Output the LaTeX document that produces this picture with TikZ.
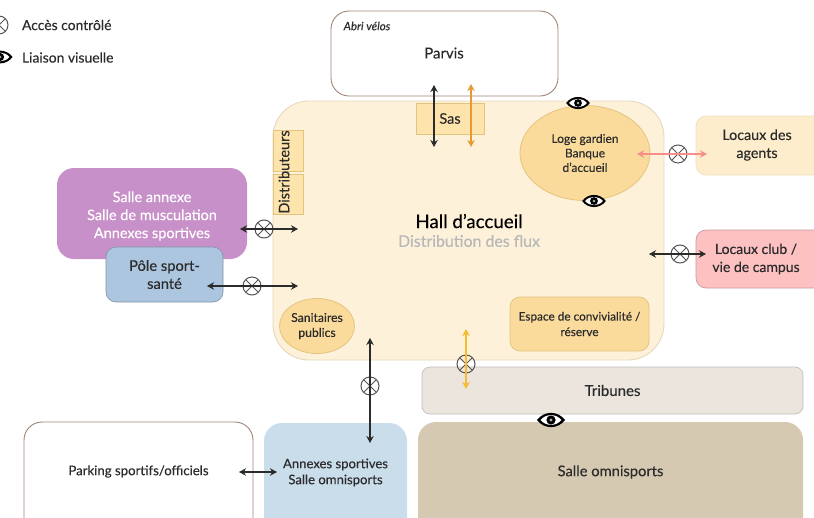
\documentclass[tikz,border=0pt]{standalone}
\usepackage{fontspec}
\setmainfont{Lato}[RawFeature={embolden=0.25}]
\usetikzlibrary{arrows.meta,shapes.geometric}
\definecolor{hallfill}{HTML}{FDF1DA}
\definecolor{halledge}{HTML}{E6D8BC}
\definecolor{gold}{HTML}{FDE3AC}
\definecolor{goldedge}{HTML}{E3C47F}
\definecolor{ellfill}{HTML}{FADB9B}
\definecolor{agents}{HTML}{FDEDCD}
\definecolor{club}{HTML}{FDC1C2}
\definecolor{mauve}{HTML}{C890C9}
\definecolor{blue1}{HTML}{ABC6DE}
\definecolor{blue2}{HTML}{C9DDEB}
\definecolor{trib}{HTML}{ECE5DD}
\definecolor{salle}{HTML}{D5C9B2}
\definecolor{brownedge}{HTML}{A08478}
\definecolor{ink}{HTML}{2B2B2B}
\definecolor{orangearrow}{HTML}{E59A33}
\definecolor{pinkarrow}{HTML}{F88E8A}
\definecolor{yellowarrow}{HTML}{F6BC2E}
\tikzset{
  x=1pt,y=-1pt,
  room/.style={rectangle,rounded corners=#1,inner sep=0pt,align=center,text=ink,font=\fontsize{13}{16}\selectfont},
  room/.default=16pt,
  flow/.style={line width=1.6pt,draw=ink,{Stealth[length=7pt,width=7.5pt]}-{Stealth[length=7pt,width=7.5pt]}},
  ctrl/.style={circle,draw=ink!80,line width=1pt,minimum size=18pt,inner sep=0pt,
    path picture={\draw[ink!80,line width=0.8pt] (path picture bounding box.north west) -- (path picture bounding box.south east)
      (path picture bounding box.north east) -- (path picture bounding box.south west);}},
  eyeicon/.pic={
    \fill[black] (-14,0) .. controls (-7,-9.5) and (7,-9.5) .. (14,0) .. controls (7,9.5) and (-7,9.5) .. (-14,0) -- cycle;
    \fill[white] (-10.5,0) .. controls (-5,-6.5) and (5,-6.5) .. (10.5,0) .. controls (5,6.5) and (-5,6.5) .. (-10.5,0) -- cycle;
    \fill[black] (0,0) circle[radius=4.6];
    \fill[white!70!black] (0,0) circle[radius=1.6];
  }
}
\begin{document}
\begin{tikzpicture}
\useasboundingbox (0,0) rectangle (814,517);
\clip (0,0) rectangle (814,517);
% hall
\filldraw[fill=hallfill,draw=halledge,line width=0.9pt,rounded corners=36pt] (273,101) rectangle (664,360);
\node[font=\fontsize{18.7}{20}\selectfont,text=black] (hall) at (469,221) {Hall d’accueil};
\node[font=\fontsize{15.9}{17}\selectfont,text=black!28] (flux) at (469,241) {Distribution des flux};
% parvis
\node[room=18pt,draw=brownedge,fill=white,line width=0.9pt,minimum width=227pt,minimum height=85pt] (parvis) at (444.5,53.5) {};
\node[font=\itshape\fontsize{11.5}{13}\selectfont,text=ink] (velos) at (367,26) {Abri vélos};
\node[font=\fontsize{15}{16}\selectfont,text=ink] (parvist) at (444,53) {Parvis};
% sas
\node[rectangle,draw=goldedge,fill=gold,line width=0.6pt,minimum width=68pt,minimum height=31pt,inner sep=0pt,font=\fontsize{14.5}{16}\selectfont,text=ink] (sas) at (450,118.5) {Sas};
% loge
\node[ellipse,draw=goldedge,fill=ellfill,line width=0.8pt,minimum width=130pt,minimum height=95pt,inner sep=0pt,align=center,font=\fontsize{12}{14.5}\selectfont,text=ink] (loge) at (585,153) {Loge gardien\\Banque\\d’accueil};
% agents, club
\node[room=10pt,draw=goldedge!50,fill=agents,line width=0.7pt,minimum width=130pt,minimum height=59pt] (agentsbox) at (761,145.5) {};
\node[font=\fontsize{14.3}{18}\selectfont,align=center,text=ink] (agentst) at (757,145) {Locaux des\\agents};
\node[room=10pt,draw=club!80!black,fill=club,line width=0.7pt,minimum width=130pt,minimum height=58pt] (clubbox) at (761,259) {};
\node[font=\fontsize{14}{18}\selectfont,align=center,text=ink] (clubt) at (756,259) {Locaux club /\\vie de campus};
% west rooms
\node[room=17pt,fill=mauve,minimum width=190pt,minimum height=91pt] (annexe) at (152,213.5) {};
\node[text=white,align=center,font=\fontsize{14.5}{18}\selectfont] (annexet) at (152,216) {Salle annexe\\Salle de musculation\\Annexes sportives};
\node[room=10pt,draw=blue1!75!black,fill=blue1,line width=0.6pt,minimum width=117pt,minimum height=55pt,font=\fontsize{14.7}{18}\selectfont] (pole) at (164.5,274.5) {Pôle sport-\\santé};
% distributeurs
\node[rectangle,draw=goldedge,fill=gold,line width=0.6pt,minimum width=30pt,minimum height=41pt,inner sep=0pt] (d1) at (288,150.5) {};
\node[rectangle,draw=goldedge,fill=gold,line width=0.6pt,minimum width=30pt,minimum height=40pt,inner sep=0pt] (d2) at (288,194) {};
\node[rotate=90,font=\fontsize{14.5}{16}\selectfont,text=ink] (dist) at (284,172) {Distributeurs};
% sanitaires, espace
\node[ellipse,draw=goldedge,fill=ellfill,line width=0.8pt,minimum width=75pt,minimum height=55pt,inner sep=0pt,align=center,font=\fontsize{12.2}{15}\selectfont,text=ink] (sani) at (317,326) {Sanitaires\\publics};
\node[room=10pt,draw=goldedge,fill=ellfill,line width=0.8pt,minimum width=139pt,minimum height=54pt,font=\fontsize{11.8}{15.5}\selectfont] (espace) at (579.5,324) {Espace de convivialité /\\réserve};
% south
\node[room=8pt,draw=black!25,fill=trib,line width=0.7pt,minimum width=381pt,minimum height=47pt,font=\fontsize{15}{16}\selectfont] (trib) at (612.5,390.5) {Tribunes};
\node[room=18pt,fill=salle,minimum width=385pt,minimum height=115pt] (sallebox) at (610.5,479.5) {};
\node[font=\fontsize{14.7}{16}\selectfont,text=ink] (sallet) at (610.5,472) {Salle omnisports};
\node[room=18pt,fill=blue2,minimum width=143pt,minimum height=115pt] (annexes) at (335.5,480.5) {};
\node[align=center,font=\fontsize{13.1}{16}\selectfont,text=ink] (annexest) at (335.5,472.5) {Annexes sportives\\Salle omnisports};
\node[room=18pt,draw=brownedge,fill=white,line width=0.9pt,minimum width=229pt,minimum height=115pt] (parking) at (138.5,479.5) {};
\node[font=\fontsize{13.2}{14}\selectfont,text=ink] (parkingt) at (138.5,471.5) {Parking sportifs/officiels};
% anchors
\foreach \n/\x/\y in {a1/434/85,a2/434/147,b1/471/84,b2/471/147,c1/637/154,c2/707/154,e1/649/254,e2/706/254,f1/240/229,f2/298/229,g1/207/286,g2/298/286,h1/370/338,h2/370/443,i1/239/472,i2/277/472,j1/466/329,j2/466/389}
  \coordinate (\n) at (\x,\y);
% crossings
\node[ctrl] (xc) at (678,154) {};
\node[ctrl] (xe) at (680,254) {};
\node[ctrl] (xf) at (264,229) {};
\node[ctrl] (xg) at (252,286) {};
\node[ctrl] (xh) at (370,386) {};
\node[ctrl] (xj) at (466,364) {};
\node[ctrl] (xl) at (-1,25) {};
% flows
\draw[flow] (a1) -- (a2);
\draw[flow,draw=orangearrow] (b1) -- (b2);
\draw[flow,draw=pinkarrow] (c1) -- (c2);
\draw[flow] (e1) -- (e2);
\draw[flow] (f1) -- (f2);
\draw[flow] (g1) -- (g2);
\draw[flow] (h1) -- (h2);
\draw[flow] (i1) -- (i2);
\draw[flow,draw=yellowarrow] (j1) -- (j2);
% eyes
\pic at (578,103) [scale=0.85] {eyeicon};
\pic at (594,201) [scale=0.85] {eyeicon};
\pic at (551,420) {eyeicon};
\pic at (0,57) [scale=0.9] {eyeicon};
% legend
\node[anchor=west,font=\fontsize{13.9}{15}\selectfont,text=ink] (leg1) at (18.5,25) {Accès contrôlé};
\node[anchor=west,font=\fontsize{13.9}{15}\selectfont,text=ink] (leg2) at (18.5,57.5) {Liaison visuelle};
\end{tikzpicture}
\end{document}
